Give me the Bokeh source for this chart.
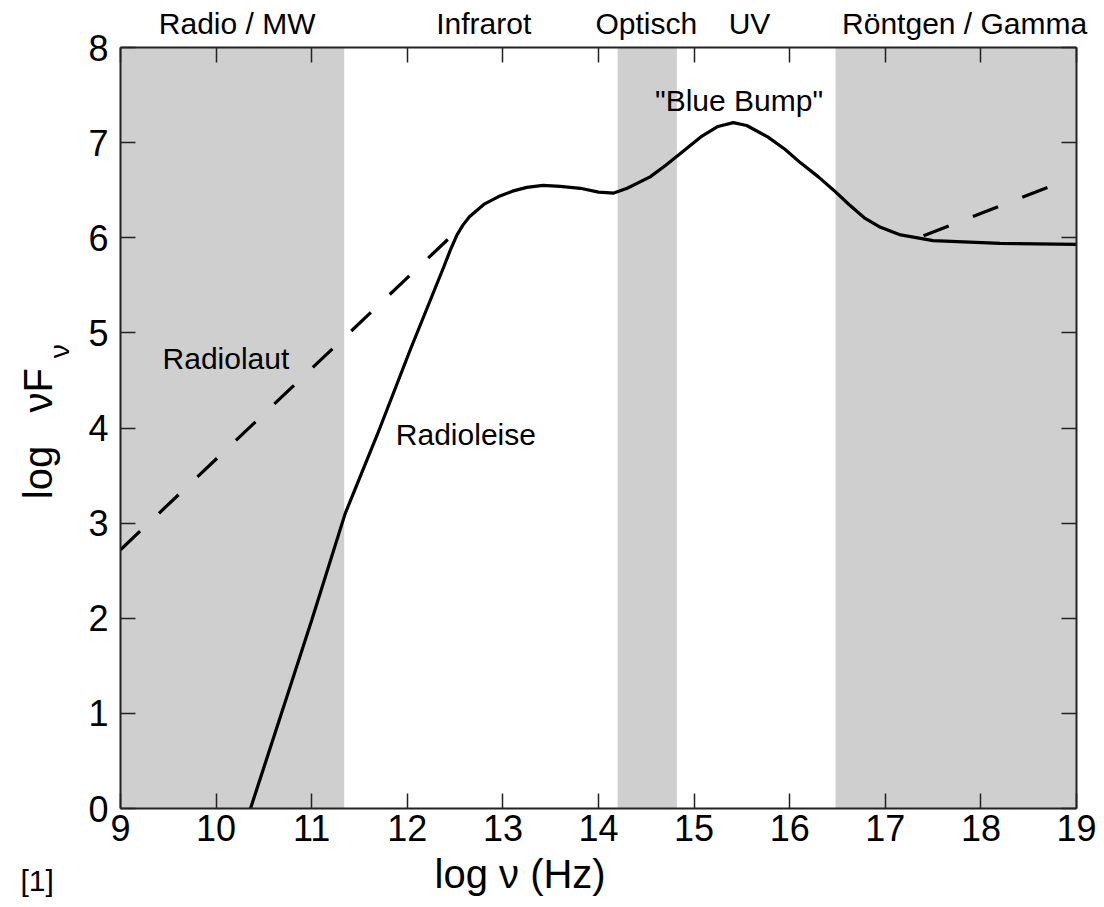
import math

from bokeh.embed import file_html
from bokeh.models import FixedTicker, LinearAxis, Range1d, Title, Label
from bokeh.plotting import figure
from bokeh.resources import INLINE

# Spectral bands (log Hz): left edge, right edge
band_left = [9.0, 14.2, 16.48]
band_right = [11.34, 14.82, 19.0]

# Band names along the top, with their centres (log Hz)
band_names = ["Radio / MW", "Infrarot", "Optisch", "UV", "Röntgen / Gamma"]
band_name_x = [10.22, 12.8, 14.5, 15.58, 17.83]

# Radio-quiet quasar SED (log nu, log nuF_nu)
quiet_x = [10.36, 10.7, 11.0, 11.35, 11.69, 12.03, 12.38, 12.45, 12.52, 12.58,
           12.65, 12.8, 12.95, 13.1, 13.25, 13.42, 13.6, 13.81, 14.0, 14.16,
           14.3, 14.54, 14.7, 14.85, 15.07, 15.25, 15.41, 15.55, 15.77, 15.95,
           16.11, 16.3, 16.46, 16.62, 16.78, 16.95, 17.16, 17.5, 18.2, 19.0]
quiet_y = [0.0, 1.05, 1.98, 3.1, 3.94, 4.82, 5.69, 5.87, 6.03, 6.13,
           6.22, 6.35, 6.43, 6.49, 6.53, 6.55, 6.54, 6.52, 6.48, 6.47,
           6.52, 6.64, 6.76, 6.88, 7.06, 7.17, 7.21, 7.18, 7.06, 6.93,
           6.79, 6.64, 6.5, 6.35, 6.21, 6.11, 6.03, 5.97, 5.94, 5.93]

# Radio-loud excess: radio power law and high-energy power law
loud_radio_x = [9.0, 12.6]
loud_radio_y = [2.72, 6.15]
loud_xray_x = [17.4, 18.8]
loud_xray_y = [6.02, 6.57]

x_ticks = list(range(9, 20))
y_ticks = list(range(0, 9))

# axis titles
x_title = "log ν (Hz)"
x_title_pos = 13.18
y_title = "log\u00a0\u00a0\u00a0νF\u00a0"
y_title_sub = "ν"
y_title_sub_pos = 4.88
ref_mark = "[1]"

FONT = "Liberation Sans"
GREY = "#cfcfcf"
INK = "#222222"

p = figure(
    width=1104, height=907,
    x_range=Range1d(9, 19), y_range=Range1d(0, 8),
    output_backend="svg", toolbar_location=None,
    min_border_left=120, min_border_right=28,
    min_border_top=47, min_border_bottom=99,
    x_axis_location=None, y_axis_location=None,
)
p.grid.visible = False
p.outline_line_color = None
p.background_fill_color = "white"
p.border_fill_color = "white"

# shaded spectral bands
p.quad(left=band_left, right=band_right, bottom=0, top=8,
       fill_color=GREY, line_color=None)

# curves
p.line(quiet_x, quiet_y, line_color="black", line_width=3.2)
p.line(loud_radio_x, loud_radio_y, line_color="black", line_width=3.2,
       line_dash="27 26")
p.line(loud_xray_x, loud_xray_y, line_color="black", line_width=3.2,
       line_dash="27 26")


def frame_axis(ticker, label_size):
    ax = LinearAxis(ticker=ticker)
    ax.axis_line_color = INK
    ax.axis_line_width = 2
    ax.major_tick_in = 15
    ax.major_tick_out = 0
    ax.major_tick_line_color = INK
    ax.major_tick_line_width = 1.5
    ax.minor_tick_in = 0
    ax.minor_tick_out = 0
    ax.major_label_text_font = FONT
    ax.major_label_text_font_size = label_size
    ax.major_label_text_color = "black"
    return ax


def text_axis(ticks, labels, size):
    ax = LinearAxis(ticker=FixedTicker(ticks=ticks),
                    major_label_overrides=dict(zip(ticks, labels)))
    ax.axis_line_color = None
    ax.major_tick_line_color = None
    ax.minor_tick_line_color = None
    ax.major_tick_in = 0
    ax.major_tick_out = 0
    ax.minor_tick_in = 0
    ax.minor_tick_out = 0
    ax.major_label_text_font = FONT
    ax.major_label_text_font_size = size
    ax.major_label_text_color = "black"
    return ax


# bottom: numbered frame edge, then the axis title
xb = frame_axis(FixedTicker(ticks=x_ticks), "36px")
xb.major_label_standoff = 6
p.add_layout(xb, "below")
xb2 = text_axis([x_title_pos], [x_title], "40px")
xb2.major_label_standoff = 8
p.add_layout(xb2, "below")

# left: numbered frame edge, then the rotated title with its subscript
yl = frame_axis(FixedTicker(ticks=y_ticks), "36px")
yl.major_label_standoff = 12
p.add_layout(yl, "left")
yl2 = text_axis([y_title_sub_pos], [y_title_sub], "28px")
yl2.major_label_orientation = math.pi / 2
yl2.major_label_standoff = 26
yl2.axis_label = y_title
yl2.axis_label_text_font = FONT
yl2.axis_label_text_font_size = "40px"
yl2.axis_label_text_font_style = "normal"
yl2.axis_label_text_color = "black"
yl2.axis_label_standoff = -34
p.add_layout(yl2, "left")

# top: band names as labels, integer ticks as inward marks
xt = LinearAxis(ticker=FixedTicker(ticks=band_name_x, minor_ticks=x_ticks),
                major_label_overrides=dict(zip(band_name_x, band_names)))
xt.axis_line_color = INK
xt.axis_line_width = 2
xt.major_tick_line_color = None
xt.major_tick_in = 0
xt.major_tick_out = 0
xt.minor_tick_in = 15
xt.minor_tick_out = 0
xt.minor_tick_line_color = INK
xt.minor_tick_line_width = 1.5
xt.major_label_text_font = FONT
xt.major_label_text_font_size = "30px"
xt.major_label_text_color = "black"
xt.major_label_standoff = 8
p.add_layout(xt, "above")

# right: plain inward ticks
yr = frame_axis(FixedTicker(ticks=y_ticks), "0px")
yr.major_label_text_color = None
yr.major_label_standoff = 0
p.add_layout(yr, "right")

# curve annotations
for txt, tx, ty, align in [('"Blue Bump"', 15.47, 7.44, "center"),
                           ("Radiolaut", 9.44, 4.73, "left"),
                           ("Radioleise", 11.88, 3.93, "left")]:
    p.add_layout(Label(x=tx, y=ty, text=txt, text_align=align,
                       text_baseline="middle", text_font=FONT,
                       text_font_size="30px", text_color="black"))

# reference marker in the lower-left corner
p.add_layout(Title(text=ref_mark, align="left", vertical_align="top",
                   offset=-100, standoff=-70,
                   text_font=FONT, text_font_size="30px",
                   text_font_style="normal", text_color="black"), "below")

open("out.html", "w").write(file_html(p, INLINE))
